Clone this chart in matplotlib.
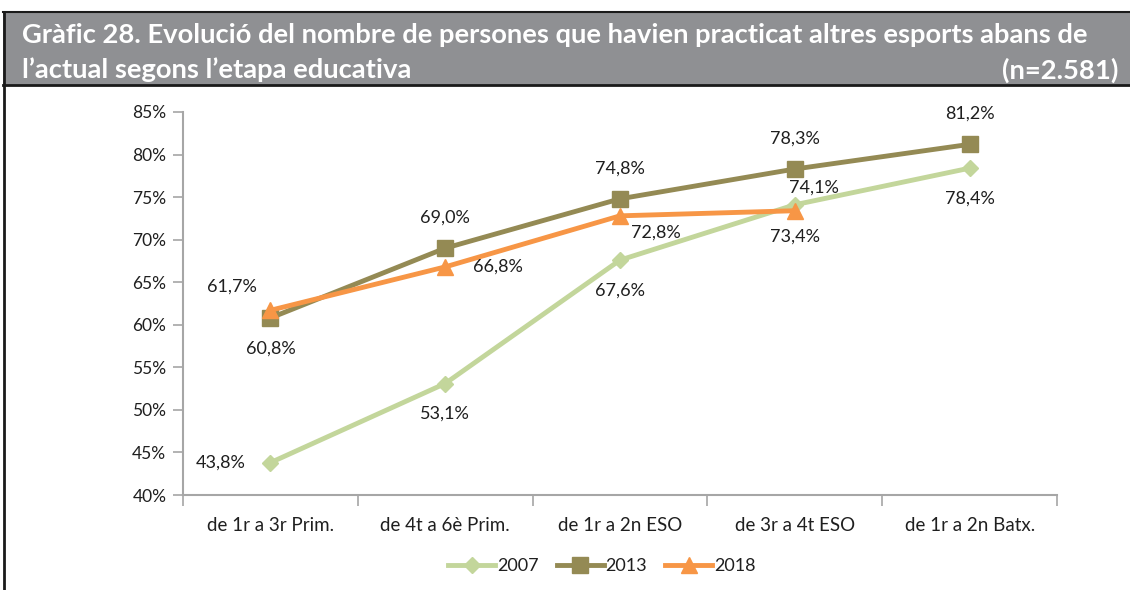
import matplotlib.pyplot as plt
from matplotlib.lines import Line2D
from matplotlib.patches import Rectangle

plt.rcParams['font.family'] = ['Lato', 'DejaVu Sans']

categories = ["de 1r a 3r Prim.", "de 4t a 6è Prim.", "de 1r a 2n ESO",
              "de 3r a 4t ESO", "de 1r a 2n Batx."]
v2007 = [43.8, 53.1, 67.6, 74.1, 78.4]
v2013 = [60.8, 69.0, 74.8, 78.3, 81.2]
v2018 = [61.7, 66.8, 72.8, 73.4]
yticks = [40, 45, 50, 55, 60, 65, 70, 75, 80, 85]

c07 = "#c3d69b"
c13 = "#948a54"
c18 = "#f79646"
txt = "#1f1f1f"
axc = "#a6a6a6"

fig = plt.figure(figsize=(11.3, 5.9), dpi=100)

# title box
fig.patches.append(Rectangle((3 / 1130, 1 - 85 / 590), 1 - 3 / 1130, 73 / 590,
                             transform=fig.transFigure, facecolor="#8f9093",
                             edgecolor="none", zorder=0))
fig.add_artist(Line2D([3 / 1130, 1], [1 - 12 / 590] * 2, color="#1a1a1a", lw=1.5))
fig.add_artist(Line2D([3 / 1130, 1], [1 - 85 / 590] * 2, color="#1a1a1a", lw=2))
fig.add_artist(Line2D([4 / 1130] * 2, [0, 1 - 12 / 590], color="#1a1a1a", lw=2))
fig.text(22 / 1130, 1 - 35 / 590, "Gràfic 28. Evolució del nombre de persones que havien practicat altres esports abans de",
         color="white", fontsize=19.7, fontweight="bold", va="center", ha="left")
fig.text(22 / 1130, 1 - 70 / 590, "l’actual segons l’etapa educativa",
         color="white", fontsize=19.7, fontweight="bold", va="center", ha="left")
fig.text(1118 / 1130, 1 - 70 / 590, "(n=2.581)",
         color="white", fontsize=19.7, fontweight="bold", va="center", ha="right")

ax = fig.add_axes([183 / 1130, 95 / 590, 874 / 1130, 383 / 590])
x = list(range(len(categories)))

ax.plot(x, v2007, color=c07, lw=3.5, marker="D", ms=8, label="2007", zorder=3)
ax.plot(x, v2013, color=c13, lw=3.5, marker="s", ms=11, label="2013", zorder=4)
ax.plot(x[:len(v2018)], v2018, color=c18, lw=3.5, marker="^", ms=11, label="2018", zorder=5)

def lab(xi, yi, dx, dy):
    ax.annotate(f"{yi:.1f}%".replace(".", ","), (xi, yi), xytext=(dx, dy),
                textcoords="offset points", ha="center", va="center",
                fontsize=13, color=txt, zorder=6)

off07 = [(-36, 0), (0, -22), (0, -22), (14, 12), (0, -22)]
off13 = [(0, -22), (0, 22), (0, 22), (0, 22), (0, 22)]
off18 = [(-28, 17), (38, 0), (26, -12), (0, -19)]
for xi, yi, o in zip(x, v2007, off07):
    lab(xi, yi, *o)
for xi, yi, o in zip(x, v2013, off13):
    lab(xi, yi, *o)
for xi, yi, o in zip(x, v2018, off18):
    lab(xi, yi, *o)

ax.set_xlim(-0.5, len(categories) - 0.5)
ax.set_ylim(40, 85)
ax.set_yticks(yticks)
ax.set_yticklabels([f"{t}%" for t in yticks], fontsize=12.5, color=txt)
ax.set_xticks([i - 0.5 for i in range(len(categories) + 1)])
ax.set_xticklabels([])
ax.set_xticks(x, minor=True)
ax.set_xticklabels(categories, minor=True, fontsize=13.5, color=txt)
ax.tick_params(axis="x", which="minor", length=0, pad=16)
ax.tick_params(axis="x", which="major", length=8, color=axc, width=1.2)
ax.tick_params(axis="y", length=7, color=axc, width=1.2, pad=5)
for s in ["top", "right"]:
    ax.spines[s].set_visible(False)
for s in ["left", "bottom"]:
    ax.spines[s].set_color(axc)
    ax.spines[s].set_linewidth(1.5)

ax.legend(loc="center", bbox_to_anchor=(602 / 1130, 1 - 566 / 590),
          bbox_transform=fig.transFigure, ncol=3, frameon=False, fontsize=13,
          handlelength=2.6, handletextpad=0.1, columnspacing=1.0,
          labelcolor=txt)

fig.savefig("out.png", dpi=100)
